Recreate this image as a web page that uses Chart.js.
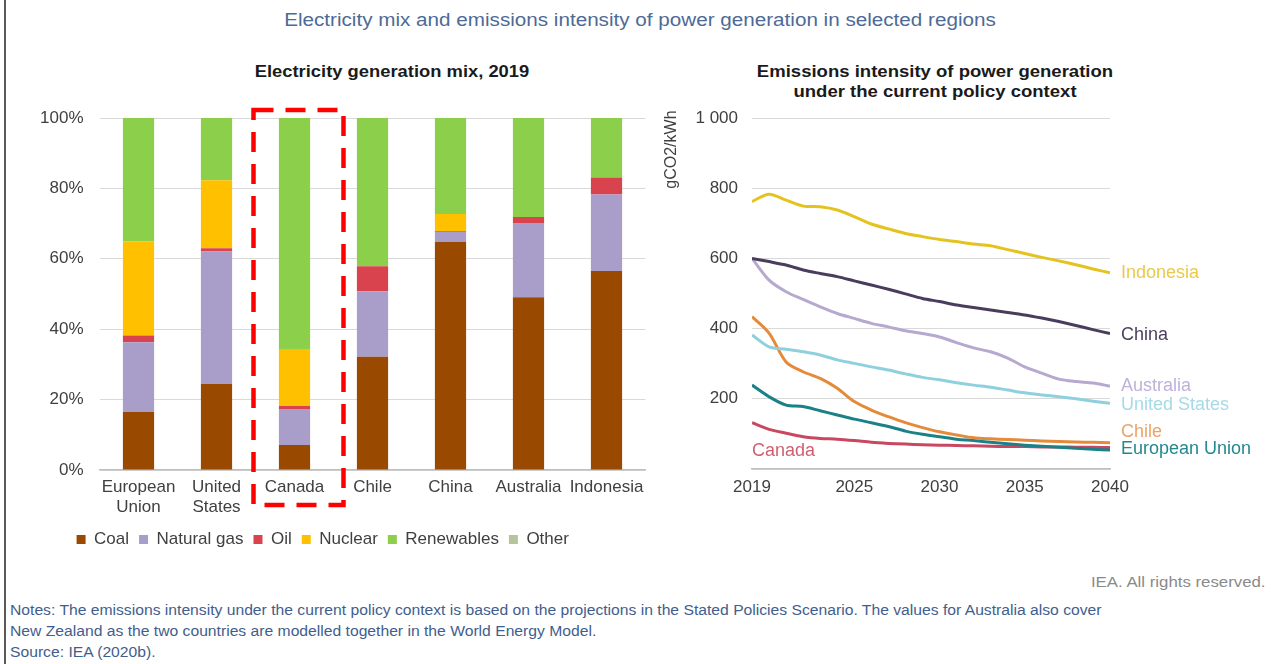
<!DOCTYPE html>
<html>
<head>
<meta charset="utf-8">
<script src="https://cdn.jsdelivr.net/npm/chart.js@4.4.1/dist/chart.umd.min.js"></script>
<style>
  html, body { margin: 0; padding: 0; background: #ffffff; }
  body { width: 1271px; height: 664px; position: relative; overflow: hidden; font-family: "Liberation Sans", Arial, sans-serif; }
  .abs { position: absolute; }
  #border { left: 4px; top: 0; width: 2px; height: 664px; background: #5a5a5a; }
  #mainTitle { left: 0; width: 1280px; top: 9px; text-align: center; font-size: 17.5px; color: #4E6A96; line-height: 22px; transform: scaleX(1.18); transform-origin: 640px 0; }
  .sub { font-weight: bold; font-size: 17px; color: #1a1a1a; text-align: center; line-height: 20px; }
  #subLeft { left: 192px; width: 400px; top: 62px; transform: scaleX(1.08); }
  #subRight { left: 735px; width: 400px; top: 62px; transform: scaleX(1.09); }
  #leftWrap { left: 0; top: 0; width: 660px; height: 558px; }
  #rightWrap { left: 660px; top: 0; width: 611px; height: 560px; }
  #rights { right: 5px; top: 573px; font-size: 14px; color: #8a8a8a; line-height: 18px; transform: scaleX(1.2); transform-origin: right center; }
  #notes { left: 10px; top: 600px; font-size: 14px; color: #3F5E8E; line-height: 21px; white-space: nowrap; transform: scaleX(1.12); transform-origin: left top; }
</style>
</head>
<body>
<div id="border" class="abs"></div>
<div id="mainTitle" class="abs">Electricity mix and emissions intensity of power generation in selected regions</div>
<div id="subLeft" class="abs sub">Electricity generation mix, 2019</div>
<div id="subRight" class="abs sub">Emissions intensity of power generation<br>under the current policy context</div>
<div id="leftWrap" class="abs"><canvas id="mix"></canvas></div>
<div id="rightWrap" class="abs"><canvas id="intensity"></canvas></div>
<div id="rights" class="abs">IEA. All rights reserved.</div>
<div id="notes" class="abs">Notes: The emissions intensity under the current policy context is based on the projections in the Stated Policies Scenario. The values for Australia also cover<br>New Zealand as the two countries are modelled together in the World Energy Model.<br>Source: IEA (2020b).</div>

<script>
// ---------- Data: electricity generation mix, 2019 (%) ----------
const regions = [['European', 'Union'], ['United', 'States'], 'Canada', 'Chile', 'China', 'Australia', 'Indonesia'];
const coal       = [16.5, 24.4,  7.1, 32.2, 64.8, 49.1, 56.5];
const naturalGas = [19.8, 37.7, 10.2, 18.6,  2.8, 21.1, 21.8];
const oil        = [ 1.9,  0.9,  0.9,  7.1,  0.2,  1.7,  4.8];
const nuclear    = [26.8, 19.3, 16.2,  0.0,  4.9,  0.0,  0.0];
const renewables = [35.0, 17.7, 65.6, 42.1, 27.3, 28.1, 16.9];
const other      = [ 0.0,  0.0,  0.0,  0.0,  0.0,  0.0,  0.0];
const mixTicks   = [0, 20, 40, 60, 80, 100];

// ---------- Data: emissions intensity (gCO2/kWh) ----------
const years = [2019, 2020, 2021, 2022, 2023, 2024, 2025, 2026, 2027, 2028, 2029, 2030, 2031, 2032, 2033, 2034, 2035, 2036, 2037, 2038, 2039, 2040];
const indonesia     = [762, 783, 766, 749, 747, 738, 719, 698, 684, 671, 662, 654, 648, 641, 636, 625, 614, 603, 593, 582, 570, 559];
const china         = [600, 591, 581, 567, 557, 548, 536, 524, 512, 499, 486, 477, 467, 460, 453, 446, 439, 430, 420, 409, 397, 386];
const australia     = [600, 538, 505, 483, 462, 443, 429, 415, 405, 394, 386, 376, 360, 345, 334, 316, 291, 273, 256, 249, 245, 236];
const unitedStates  = [382, 348, 341, 334, 325, 311, 301, 291, 282, 271, 261, 254, 246, 239, 233, 225, 217, 211, 206, 200, 193, 187];
const chile         = [434, 387, 305, 277, 258, 230, 192, 168, 149, 132, 118, 106,  97,  89,  86,  84,  82,  80,  78,  77,  76,  75];
const europeanUnion = [239, 206, 182, 178, 166, 154, 142, 132, 121, 108,  99,  92,  85,  81,  76,  72,  68,  65,  62,  59,  56,  54];
const canada        = [132, 113, 102,  92,  87,  85,  81,  76,  73,  71,  69,  68,  67,  66,  65,  64,  64,  63,  63,  62,  62,  61];
const yearTicks      = [2019, 2025, 2030, 2035, 2040];
const intensityTicks = [0, 200, 400, 600, 800, 1000];

const FONT = '"Liberation Sans", Arial, sans-serif';
const TICK_COLOR = '#404040';

// ---------- Left chart ----------
const highlightBox = {
  id: 'highlightBox',
  afterDraw(chart) {
    const {ctx, scales: {x, y}, chartArea} = chart;
    const cx = x.getPixelForValue(2);
    const left = cx - 41, right = cx + 49;
    const top = y.getPixelForValue(100) - 8;
    const bottom = chartArea.bottom + 35;
    ctx.save();
    ctx.strokeStyle = '#FF0000';
    ctx.lineWidth = 4.5;
    ctx.setLineDash([20, 12]);
    ctx.strokeRect(left, top, right - left, bottom - top);
    ctx.restore();
  }
};

const mixSeries = [
  ['Coal', coal, '#9A4A00'],
  ['Natural gas', naturalGas, '#A99DC9'],
  ['Oil', oil, '#D8434E'],
  ['Nuclear', nuclear, '#FFC000'],
  ['Renewables', renewables, '#8CCF4A'],
  ['Other', other, '#B7C39B']
];

new Chart(document.getElementById('mix'), {
  type: 'bar',
  data: {
    labels: regions,
    datasets: mixSeries.map(([label, data, color]) => ({
      label, data, backgroundColor: color, borderWidth: 0,
      categoryPercentage: 0.8, barPercentage: 0.5
    }))
  },
  options: {
    responsive: true,
    maintainAspectRatio: false,
    animation: false,
    layout: { padding: { top: 118, right: 14.5, left: 0, bottom: 0 } },
    plugins: {
      title: { display: false },
      tooltip: { enabled: false },
      legend: {
        position: 'bottom',
        labels: {
          font: { family: FONT, size: 17 },
          color: TICK_COLOR,
          boxWidth: 9, boxHeight: 9, padding: 10
        }
      }
    },
    scales: {
      x: {
        stacked: true,
        grid: { display: false, drawTicks: false },
        border: { display: true, color: '#BFBFBF', width: 1.5 },
        ticks: { font: { family: FONT, size: 17 }, color: TICK_COLOR, padding: 7, maxRotation: 0, autoSkip: false },
        afterFit(s) { s.height = 51; }
      },
      y: {
        stacked: true,
        min: 0, max: 100,
        afterBuildTicks(s) { s.ticks = mixTicks.map(v => ({ value: v })); },
        grid: { color: '#D9D9D9', drawTicks: false, lineWidth: 1 },
        border: { display: false },
        ticks: { font: { family: FONT, size: 17 }, color: TICK_COLOR, padding: 16, callback: v => v + '%' },
        afterFit(s) { s.width = 99.5; }
      }
    }
  },
  plugins: [highlightBox]
});

// ---------- Right chart ----------
const lineSeries = [
  { name: 'Indonesia',      data: indonesia,     color: '#E5C31F', labelColor: '#E9C94C', dy: 0 },
  { name: 'China',          data: china,         color: '#4A3C5C', labelColor: '#4D405E', dy: 2 },
  { name: 'Australia',      data: australia,     color: '#B7A8CF', labelColor: '#BFB1D8', dy: 0 },
  { name: 'United States',  data: unitedStates,  color: '#8FD0DE', labelColor: '#A6DAE6', dy: 2 },
  { name: 'Chile',          data: chile,         color: '#E48A3A', labelColor: '#EBA468', dy: -11 },
  { name: 'European Union', data: europeanUnion, color: '#1B8188', labelColor: '#23888F', dy: -1 },
  { name: 'Canada',         data: canada,        color: '#C84862', labelColor: '#D1606F', dy: 0 }
];

const lineLabels = {
  id: 'lineLabels',
  afterDraw(chart) {
    const {ctx, chartArea, scales: {x, y}} = chart;
    ctx.save();
    ctx.font = '18px ' + FONT;
    ctx.textBaseline = 'middle';
    ctx.textAlign = 'left';
    lineSeries.forEach(s => {
      if (s.name === 'Canada') {
        ctx.fillStyle = s.labelColor;
        ctx.fillText(s.name, chartArea.left, chartArea.bottom - 18);
        return;
      }
      const last = s.data[s.data.length - 1];
      ctx.fillStyle = s.labelColor;
      ctx.fillText(s.name, chartArea.right + 11, y.getPixelForValue(last) + s.dy);
    });
    // y-axis title
    ctx.translate(chartArea.left - 80, y.getPixelForValue(910));
    ctx.rotate(-Math.PI / 2);
    ctx.textAlign = 'center';
    ctx.fillStyle = TICK_COLOR;
    ctx.font = '16px ' + FONT;
    ctx.fillText('gCO2/kWh', 0, 0);
    ctx.restore();
  }
};

new Chart(document.getElementById('intensity'), {
  type: 'line',
  data: {
    datasets: lineSeries.map(s => ({
      label: s.name,
      data: years.map((yr, i) => ({ x: yr, y: s.data[i] })),
      borderColor: s.color,
      borderWidth: 3,
      pointRadius: 0,
      tension: 0.3,
      fill: false
    }))
  },
  options: {
    responsive: true,
    maintainAspectRatio: false,
    animation: false,
    layout: { padding: { top: 118, right: 161, left: 0, bottom: 51 } },
    plugins: { legend: { display: false }, tooltip: { enabled: false }, title: { display: false } },
    scales: {
      x: {
        type: 'linear',
        min: 2019, max: 2040,
        afterBuildTicks(s) { s.ticks = yearTicks.map(v => ({ value: v })); },
        grid: { display: false, drawTicks: false },
        border: { display: true, color: '#BFBFBF', width: 1.5 },
        ticks: { font: { family: FONT, size: 17 }, color: TICK_COLOR, padding: 8, callback: v => String(v), maxRotation: 0 },
        afterFit(s) { s.height = 40; }
      },
      y: {
        min: 0, max: 1000,
        afterBuildTicks(s) { s.ticks = intensityTicks.map(v => ({ value: v })); },
        grid: { color: '#D9D9D9', drawTicks: false },
        border: { display: false },
        ticks: {
          font: { family: FONT, size: 17 }, color: TICK_COLOR, padding: 14,
          callback: v => v === 0 ? '' : (v >= 1000 ? String(v).replace(/\B(?=(\d{3})+(?!\d))/g, ' ') : String(v))
        },
        afterFit(s) { s.width = 92; }
      }
    }
  },
  plugins: [lineLabels]
});
</script>
</body>
</html>
